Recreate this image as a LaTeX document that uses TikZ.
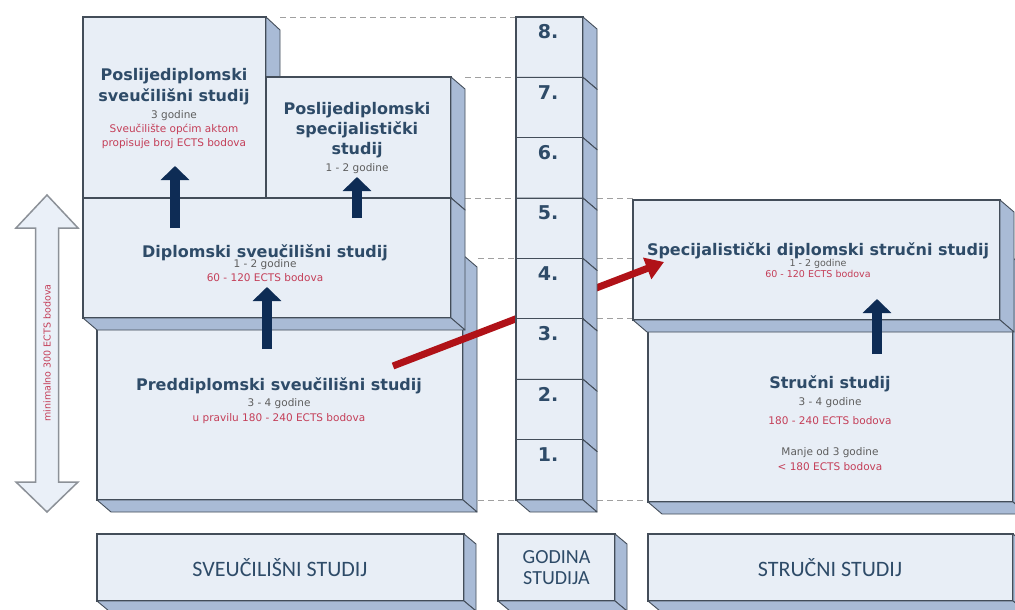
\documentclass[tikz,border=0pt]{standalone}
\usepackage{fontspec}
\setmainfont{DejaVu Sans}
\newfontfamily\calfont{Carlito}
\usetikzlibrary{arrows.meta}
\definecolor{frontc}{HTML}{E8EEF6}
\definecolor{sidec}{HTML}{A9BBD6}
\definecolor{edgec}{HTML}{434D59}
\definecolor{titlec}{HTML}{2E4B68}
\definecolor{navyc}{HTML}{0E2C55}
\definecolor{redarr}{HTML}{B01218}
\definecolor{subgray}{HTML}{5E5E5E}
\definecolor{subred}{HTML}{C43E58}
\definecolor{dashc}{HTML}{A0A0A0}
\definecolor{dblfill}{HTML}{EAF0F8}
\definecolor{dbledge}{HTML}{8C9198}
\tikzset{
  frontbox/.style={draw=edgec, fill=frontc, line width=1.2pt, inner sep=0pt, outer sep=0pt, rectangle},
  sideface/.style={draw=edgec, fill=sidec, line width=0.9pt, line join=round},
  guide/.style={draw=dashc, line width=0.9pt, dash pattern=on 6pt off 4pt},
  navyarrow/.style={draw=navyc, line width=10pt, -{Triangle[length=14pt,width=28pt]}},
  redarrow/.style={draw=redarr, line width=7pt, -{Triangle[length=18pt,width=22pt]}},
  ttltext/.style={font=\fontsize{16}{20}\selectfont\bfseries, text=titlec, inner sep=0pt, anchor=base},
  subtext/.style={font=\fontsize{10.5}{13}\selectfont, text=subgray, inner sep=0pt, anchor=base},
  redtext/.style={font=\fontsize{10.5}{13}\selectfont, text=subred, inner sep=0pt, anchor=base},
  numtext/.style={font=\fontsize{19}{19}\selectfont\bfseries, text=titlec, inner sep=0pt},
  bottext/.style={font=\calfont\fontsize{22}{21}\selectfont, text=titlec, inner sep=0pt, align=center},
  dblarrow/.style={draw=dbledge, fill=dblfill, line width=1.5pt, line join=miter},
}
\newcommand{\boxat}[5]{%
  \node[frontbox, minimum width={#4-#2}, minimum height={#5-#3}] (#1) at ({(#2+#4)/2},{(#3+#5)/2}) {};}
\newcommand{\faces}[3]{%
  \filldraw[sideface] (#1.north east) -- ++(#2,#3) -- ([shift={(#2,#3)}]#1.south east) -- (#1.south east) -- cycle;
  \filldraw[sideface] (#1.south west) -- ++(#2,#3) -- ([shift={(#2,#3)}]#1.south east) -- (#1.south east) -- cycle;}
\begin{document}
\begin{tikzpicture}[x=1pt,y=-1pt]
\useasboundingbox (0,0) rectangle (1015,610);
\clip (0,0) rectangle (1015,610);
\fill[white] (0,0) rectangle (1015,610);

% guide lines
\draw[guide] (280,17) -- (516,17);
\draw[guide] (465,77.4) -- (516,77.4);
\draw[guide] (465,198.1) -- (516,198.1);
\draw[guide] (478,258.5) -- (516,258.5);
\draw[guide] (478,500) -- (516,500);
\draw[guide] (597,198.1) -- (633,198.1);
\draw[guide] (597,258.5) -- (633,258.5);
\draw[guide] (597,318.9) -- (633,318.9);
\draw[guide] (597,500) -- (648,500);

% left double arrow
\filldraw[dblarrow] (47,195) -- (78,228) -- (58.5,228) -- (58.5,482) -- (78,482) -- (47,512)
  -- (16,482) -- (35.5,482) -- (35.5,228) -- (16,228) -- cycle;
\node[font=\fontsize{9.5}{10}\selectfont, text=subred, rotate=90, inner sep=0pt] (mintxt) at (47,353) {minimalno 300 ECTS bodova};

% university side
\boxat{pred}{97}{255}{463}{500}
\faces{pred}{14}{12}
\boxat{psv}{83}{17}{266}{198}
\faces{psv}{14}{13}
\boxat{psp}{266}{77}{451}{198}
\faces{psp}{14}{12}
\boxat{dip}{83}{198}{451}{318}
\faces{dip}{14}{12}

% professional side
\boxat{str}{648}{258}{1013}{502}
\faces{str}{14}{12}
\boxat{spe}{633}{200}{1000}{320}
\faces{spe}{14}{12}

% texts
\node[ttltext] (psv1) at (174,81) {Poslijediplomski};
\node[ttltext] (psv2) at (174,101) {sveučilišni studij};
\node[subtext] (psv3) at (174,118) {3 godine};
\node[redtext] (psv4) at (174,132) {Sveučilište općim aktom};
\node[redtext] (psv5) at (174,146) {propisuje broj ECTS bodova};

\node[ttltext] (psp1) at (357,114) {Poslijediplomski};
\node[ttltext] (psp2) at (357,134) {specijalistički};
\node[ttltext] (psp3) at (357,154) {studij};
\node[subtext] (psp4) at (357,171) {1 - 2 godine};

\node[ttltext] (dip1) at (265,257) {Diplomski sveučilišni studij};
\node[subtext] (dip2) at (265,267) {1 - 2 godine};
\node[redtext] (dip3) at (265,281) {60 - 120 ECTS bodova};

\node[ttltext] (pre1) at (279,390) {Preddiplomski sveučilišni studij};
\node[subtext] (pre2) at (279,406) {3 - 4 godine};
\node[redtext] (pre3) at (279,421) {u pravilu 180 - 240 ECTS bodova};

\node[ttltext] (spe1) at (818,255) {Specijalistički diplomski stručni studij};
\node[subtext, font=\fontsize{9.5}{11}\selectfont] (spe2) at (818,266) {1 - 2 godine};
\node[redtext, font=\fontsize{9.5}{11}\selectfont] (spe3) at (818,277) {60 - 120 ECTS bodova};

\node[ttltext] (str1) at (830,388) {Stručni studij};
\node[subtext] (str2) at (830,405) {3 - 4 godine};
\node[redtext] (str3) at (830,424) {180 - 240 ECTS bodova};
\node[subtext] (str4) at (830,455) {Manje od 3 godine};
\node[redtext] (str5) at (830,470) {< 180 ECTS bodova};

% navy arrows
\coordinate (a1s) at (175,228); \coordinate (a1e) at (175,166);
\coordinate (a2s) at (357,218); \coordinate (a2e) at (357,177);
\coordinate (a3s) at (267,349); \coordinate (a3e) at (267,287);
\coordinate (a4s) at (877,354); \coordinate (a4e) at (877,299);
\draw[navyarrow] (a1s) -- (a1e);
\draw[navyarrow] (a2s) -- (a2e);
\draw[navyarrow] (a3s) -- (a3e);
\draw[navyarrow] (a4s) -- (a4e);

% red arrow
\coordinate (rs) at (393,366);
\coordinate (re) at (664,262);
\draw[redarrow] (rs) -- (re);

% year column
\foreach \n in {8,7,...,1} {
  \pgfmathsetmacro{\yt}{500-\n*60.375}
  \pgfmathsetmacro{\yb}{\yt+60.375}
  \boxat{cell\n}{516}{\yt}{583}{\yb}
  \faces{cell\n}{14}{12}
  \node[numtext] (num\n) at (548,\yt+15) {\n.};
}

% bottom row
\boxat{bsv}{97}{534}{464}{601}
\faces{bsv}{12}{10}
\boxat{bgod}{498}{534}{615}{601}
\faces{bgod}{12}{10}
\boxat{bstr}{648}{534}{1013}{601}
\faces{bstr}{12}{10}
\node[bottext] (bsvt) at (280,568) {SVEUČILIŠNI STUDIJ};
\node[bottext, font=\calfont\fontsize{20}{21}\selectfont] (bgodt) at (556.5,568) {GODINA\\STUDIJA};
\node[bottext] (bstrt) at (830,568) {STRUČNI STUDIJ};
\end{tikzpicture}
\end{document}
